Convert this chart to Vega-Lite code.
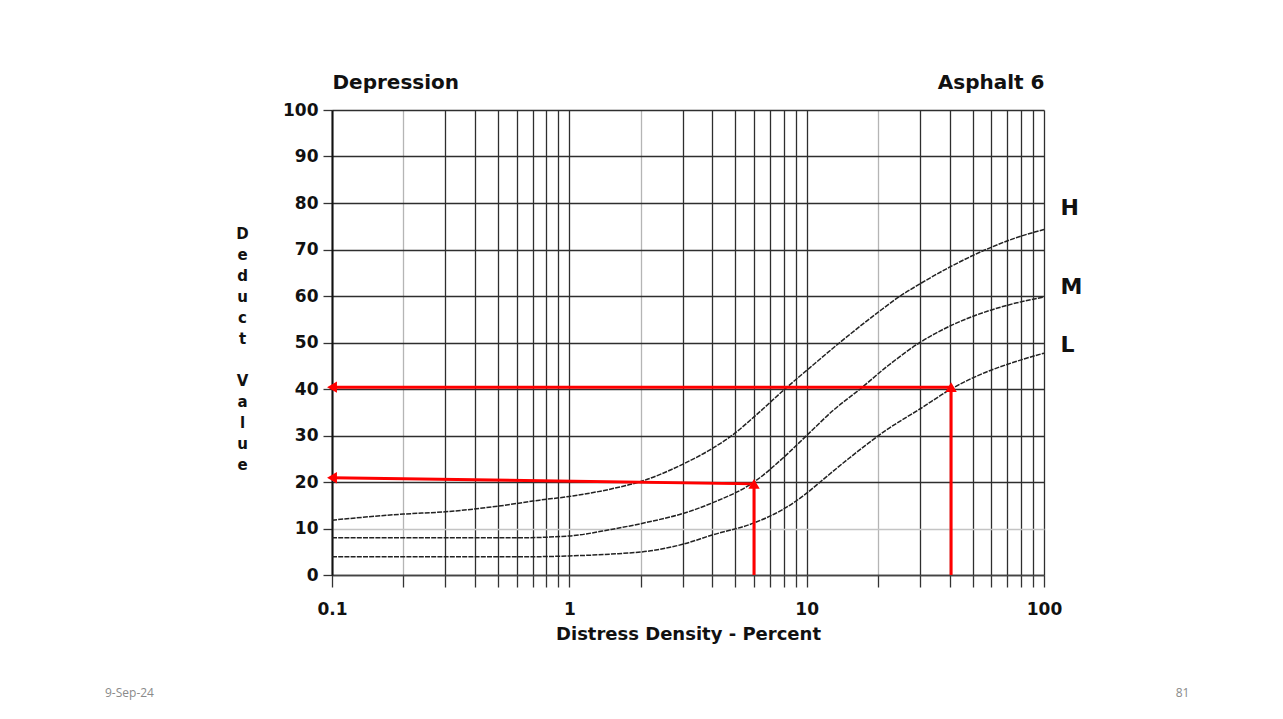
{
  "$schema": "https://vega.github.io/schema/vega-lite/v6.json",
  "width": 712,
  "height": 465,
  "autosize": {"type": "none"},
  "padding": {"left": 332, "top": 110, "right": 239, "bottom": 144},
  "background": "white",
  "config": {
    "view": {"stroke": null},
    "font": "DejaVu Sans"
  },
  "title": {
    "text": "9-Sep-24",
    "orient": "bottom",
    "anchor": "start",
    "frame": "group",
    "dx": -227,
    "dy": -22,
    "offset": 12,
    "font": "Open Sans",
    "fontSize": 12,
    "fontWeight": "normal",
    "color": "#8a8a8a"
  },
  "datasets": {
    "curves": [
      {"level": "H", "x": 0.1, "value": 11.8},
      {"level": "H", "x": 0.2, "value": 13.1},
      {"level": "H", "x": 0.3, "value": 13.6},
      {"level": "H", "x": 0.5, "value": 14.8},
      {"level": "H", "x": 0.75, "value": 16.1},
      {"level": "H", "x": 1, "value": 16.9},
      {"level": "H", "x": 1.5, "value": 18.5},
      {"level": "H", "x": 2, "value": 20.1},
      {"level": "H", "x": 3, "value": 23.8},
      {"level": "H", "x": 4, "value": 27.2},
      {"level": "H", "x": 4.9, "value": 30.2},
      {"level": "H", "x": 6, "value": 34},
      {"level": "H", "x": 8.1, "value": 40},
      {"level": "H", "x": 10, "value": 44},
      {"level": "H", "x": 13.8, "value": 50},
      {"level": "H", "x": 20, "value": 56.5},
      {"level": "H", "x": 24.8, "value": 60},
      {"level": "H", "x": 30, "value": 62.6},
      {"level": "H", "x": 40, "value": 66.2},
      {"level": "H", "x": 57, "value": 70},
      {"level": "H", "x": 75, "value": 72.4},
      {"level": "H", "x": 100, "value": 74.3},
      {"level": "M", "x": 0.1, "value": 8},
      {"level": "M", "x": 0.3, "value": 8},
      {"level": "M", "x": 0.6, "value": 8},
      {"level": "M", "x": 1, "value": 8.4},
      {"level": "M", "x": 1.5, "value": 9.8},
      {"level": "M", "x": 2.2, "value": 11.5},
      {"level": "M", "x": 3, "value": 13.2},
      {"level": "M", "x": 4, "value": 15.5},
      {"level": "M", "x": 6, "value": 20},
      {"level": "M", "x": 8, "value": 25.3},
      {"level": "M", "x": 10, "value": 30},
      {"level": "M", "x": 13, "value": 35.5},
      {"level": "M", "x": 16.8, "value": 40},
      {"level": "M", "x": 22, "value": 45},
      {"level": "M", "x": 30, "value": 50},
      {"level": "M", "x": 40, "value": 53.5},
      {"level": "M", "x": 50, "value": 55.6},
      {"level": "M", "x": 70, "value": 58},
      {"level": "M", "x": 100, "value": 59.8},
      {"level": "L", "x": 0.1, "value": 3.9},
      {"level": "L", "x": 0.3, "value": 3.9},
      {"level": "L", "x": 0.6, "value": 3.9},
      {"level": "L", "x": 1, "value": 4.1},
      {"level": "L", "x": 1.5, "value": 4.5},
      {"level": "L", "x": 2.2, "value": 5.2},
      {"level": "L", "x": 3, "value": 6.6},
      {"level": "L", "x": 4, "value": 8.6},
      {"level": "L", "x": 6, "value": 11.2},
      {"level": "L", "x": 8, "value": 14.2},
      {"level": "L", "x": 10, "value": 17.6},
      {"level": "L", "x": 11.4, "value": 20},
      {"level": "L", "x": 15, "value": 25},
      {"level": "L", "x": 21.7, "value": 31.2},
      {"level": "L", "x": 30, "value": 35.7},
      {"level": "L", "x": 40.6, "value": 40},
      {"level": "L", "x": 55, "value": 43.3},
      {"level": "L", "x": 75, "value": 45.8},
      {"level": "L", "x": 100, "value": 47.7}
    ],
    "arrows": [
      {"seg": "a", "x": 0.1, "y": 20.9, "o": 1},
      {"seg": "a", "x": 6, "y": 19.6, "o": 2},
      {"seg": "a", "x": 6, "y": 0, "o": 3},
      {"seg": "b", "x": 0.1, "y": 40.4, "o": 1},
      {"seg": "b", "x": 40.6, "y": 40.4, "o": 2},
      {"seg": "b", "x": 40.6, "y": 0, "o": 3}
    ],
    "heads": [
      {"x": 6, "y": 19.6, "dir": "up"},
      {"x": 40.6, "y": 40.4, "dir": "up"},
      {"x": 0.1, "y": 20.9, "dir": "left"},
      {"x": 0.1, "y": 40.4, "dir": "left"}
    ]
  },
  "layer": [
    {
      "data": {"name": "curves"},
      "mark": {"type": "line", "interpolate": "monotone", "color": "#222", "strokeWidth": 1.5, "strokeDash": [5, 1.2]},
      "encoding": {
        "x": {
          "field": "x", "type": "quantitative",
          "scale": {"type": "log", "domain": [0.1, 100], "nice": false},
          "axis": {
            "orient": "bottom",
            "values": [0.1, 0.2, 0.3, 0.4, 0.5, 0.6, 0.7, 0.8, 0.9, 1, 2, 3, 4, 5, 6, 7, 8, 9, 10, 20, 30, 40, 50, 60, 70, 80, 90, 100],
            "labelExpr": "datum.value == 0.1 ? '0.1' : datum.value == 1 ? '1' : datum.value == 10 ? '10' : datum.value == 100 ? '100' : ''",
            "labelFlush": false,
            "labelOverlap": false,
            "labelFont": "DejaVu Sans",
            "labelFontSize": 17,
            "labelFontWeight": "bold",
            "labelColor": "#111",
            "labelPadding": 14,
            "tickSize": 12,
            "tickColor": "#333",
            "tickWidth": 1.3,
            "domain": true,
            "domainColor": "#444",
            "domainWidth": 1.3,
            "grid": true,
            "gridColor": {"condition": {"test": "datum.value == 0.2 || datum.value == 2 || datum.value == 20", "value": "#b5b5b5"}, "value": "#2e2e2e"},
            "gridWidth": 1.3,
            "gridOpacity": 1,
            "title": "Distress Density - Percent",
            "titleFont": "DejaVu Sans",
            "titleFontSize": 18,
            "titleFontWeight": "bold",
            "titleColor": "#111",
            "titlePadding": 8
          }
        },
        "y": {
          "field": "value", "type": "quantitative",
          "scale": {"domain": [0, 100], "nice": false, "zero": false},
          "axis": {
            "orient": "left",
            "values": [0, 10, 20, 30, 40, 50, 60, 70, 80, 90, 100],
            "labelFlush": false,
            "labelFont": "DejaVu Sans",
            "labelFontSize": 17,
            "labelFontWeight": "bold",
            "labelColor": "#111",
            "labelPadding": 5,
            "tickSize": 9,
            "tickColor": "#333",
            "tickWidth": 1.3,
            "domain": true,
            "domainColor": "#111",
            "domainWidth": 2,
            "grid": true,
            "gridColor": {"condition": {"test": "datum.value == 10", "value": "#c4c4c4"}, "value": "#2e2e2e"},
            "gridWidth": 1.3,
            "gridOpacity": 1,
            "title": ["D", "e", "d", "u", "c", "t", "\u2800", "V", "a", "l", "u", "e"],
            "titleAngle": 0,
            "titleAlign": "center",
            "titleBaseline": "alphabetic",
            "titleX": -90,
            "titleY": 128,
            "titleLineHeight": 21,
            "titleFont": "DejaVu Sans",
            "titleFontSize": 15,
            "titleFontWeight": "bold",
            "titleColor": "#111"
          }
        },
        "detail": {"field": "level"}
      }
    },
    {
      "data": {"name": "arrows"},
      "mark": {"type": "line", "color": "#ff0000", "strokeWidth": 3},
      "encoding": {
        "x": {"field": "x", "type": "quantitative", "scale": {"type": "log", "domain": [0.1, 100], "nice": false}, "axis": null},
        "y": {"field": "y", "type": "quantitative", "scale": {"domain": [0, 100], "nice": false, "zero": false}, "axis": null},
        "detail": {"field": "seg"},
        "order": {"field": "o"}
      }
    },
    {
      "data": {"name": "heads"},
      "mark": {"type": "point", "filled": true, "color": "#ff0000", "opacity": 1, "size": 130},
      "encoding": {
        "x": {
          "field": "x", "type": "quantitative",
          "scale": {"type": "log", "domain": [0.1, 100], "nice": false},
          "axis": {
            "orient": "top",
            "values": [0.1, 100],
            "labelExpr": "datum.value < 1 ? 'Depression' : 'Asphalt 6'",
            "labelFlush": true,
            "labelOverlap": false,
            "labelBaseline": "alphabetic",
            "labelPadding": 22,
            "labelFont": "DejaVu Sans",
            "labelFontSize": 20,
            "labelFontWeight": "bold",
            "labelColor": "#111",
            "ticks": false,
            "tickSize": 0,
            "domain": false,
            "grid": false,
            "title": null
          }
        },
        "y": {
          "field": "y", "type": "quantitative",
          "scale": {"domain": [0, 100], "nice": false, "zero": false},
          "axis": {
            "orient": "right",
            "values": [79, 62, 49.5],
            "labelExpr": "datum.value == 79 ? 'H' : datum.value == 62 ? 'M' : 'L'",
            "labelFlush": false,
            "labelOverlap": false,
            "labelBaseline": "middle",
            "labelPadding": 16,
            "labelFont": "DejaVu Sans",
            "labelFontSize": 22,
            "labelFontWeight": "bold",
            "labelColor": "#111",
            "ticks": false,
            "tickSize": 0,
            "domain": false,
            "grid": false,
            "title": "81",
            "titleAngle": 0,
            "titleAlign": "center",
            "titleBaseline": "middle",
            "titleX": 138,
            "titleY": 582,
            "titleFont": "Open Sans",
            "titleFontSize": 12,
            "titleFontWeight": "normal",
            "titleColor": "#8a8a8a"
          }
        },
        "shape": {
          "field": "dir", "type": "nominal",
          "scale": {"domain": ["up", "left"], "range": ["triangle-up", "triangle-left"]},
          "legend": null
        }
      }
    }
  ],
  "resolve": {"axis": {"x": "independent", "y": "independent"}}
}
